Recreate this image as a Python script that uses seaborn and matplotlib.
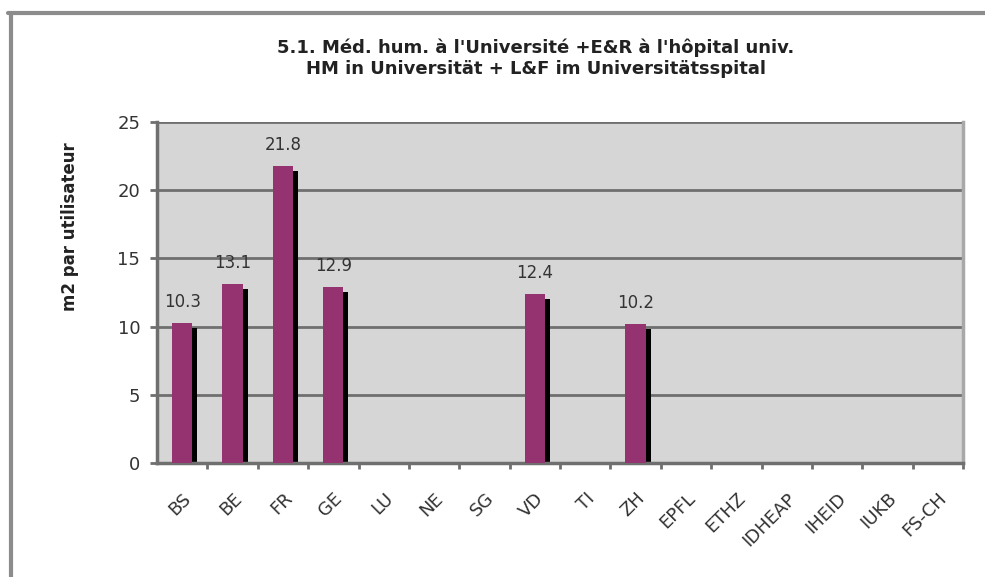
import numpy as np
import pandas as pd
import matplotlib
matplotlib.use("Agg")
import matplotlib.pyplot as plt
import matplotlib.transforms as mtransforms
from matplotlib.lines import Line2D
from matplotlib.ticker import FixedLocator
import seaborn as sns

# Data
categories = ["BS", "BE", "FR", "GE", "LU", "NE", "SG", "VD", "TI", "ZH",
              "EPFL", "ETHZ", "IDHEAP", "IHEID", "IUKB", "FS-CH"]
values = [10.3, 13.1, 21.8, 12.9, np.nan, np.nan, np.nan, 12.4, np.nan, 10.2,
          np.nan, np.nan, np.nan, np.nan, np.nan, np.nan]
y_ticks = [0, 5, 10, 15, 20, 25]
title_fr = "5.1. Méd. hum. à l'Université +E&R à l'hôpital univ."
title_de = "HM in Universität + L&F im Universitätsspital"
y_label = "m2 par utilisateur"

BAR_COLOR = "#953370"
GRID_COLOR = "#6f6f6f"
BG_COLOR = "#d6d6d6"
TEXT_COLOR = "#333333"

df = pd.DataFrame({"site": categories, "m2": values})

sns.set_style("white")
plt.rcParams["font.family"] = ["DejaVu Sans"]

fig = plt.figure(figsize=(9.85, 5.77), dpi=100)
ax = fig.add_axes([157 / 985, 1 - 463 / 577, (963 - 157) / 985, (463 - 122) / 577])
ax.set_facecolor(BG_COLOR)

# shadow layer first (shifted right/down), then the coloured bars on top
sns.barplot(data=df, x="site", y="m2", order=categories, color="black",
            width=0.4, saturation=1, ax=ax)
shift = mtransforms.ScaledTranslation(5 / 100, -5 / 100, fig.dpi_scale_trans)
for p in ax.patches:
    p.set_transform(ax.transData + shift)
    p.set_linewidth(0)
    p.set_zorder(2)
n_shadow = len(ax.patches)

sns.barplot(data=df, x="site", y="m2", order=categories, color=BAR_COLOR,
            width=0.4, saturation=1, ax=ax)
for p in ax.patches[n_shadow:]:
    p.set_linewidth(0)
    p.set_zorder(3)

# value labels
for i, v in enumerate(values):
    if not np.isnan(v):
        ax.annotate(f"{v:.1f}", (i, v), xytext=(0, 12), textcoords="offset pixels",
                    ha="center", va="bottom", fontsize=12, color=TEXT_COLOR)

ax.set_xlim(-0.5, len(categories) - 0.5)
ax.set_ylim(0, 25)
ax.set_yticks(y_ticks)
ax.yaxis.grid(True, color=GRID_COLOR, linewidth=2)
ax.set_axisbelow(True)

ax.set_xlabel("")
ax.set_ylabel("")
ax.set_xticks(range(len(categories)))
ax.set_xticklabels(categories, rotation=45, ha="right", rotation_mode="anchor",
                   fontsize=13, color=TEXT_COLOR)
ax.xaxis.set_minor_locator(FixedLocator(np.arange(0.5, len(categories), 1)))
ax.tick_params(axis="x", which="major", length=0, pad=19)
ax.tick_params(axis="x", which="minor", length=4, width=2, color=GRID_COLOR,
               bottom=True)
ax.tick_params(axis="y", length=5, width=2, color=GRID_COLOR, labelsize=13,
               labelcolor=TEXT_COLOR, pad=7, left=True)

for side in ["left", "bottom"]:
    ax.spines[side].set_color(GRID_COLOR)
    ax.spines[side].set_linewidth(2.5)
ax.spines["top"].set_visible(False)
ax.spines["right"].set_color("#a8a8a8")
ax.spines["right"].set_linewidth(2.5)

# titles and y label
fig.text(536 / 985, 1 - 48 / 577, title_fr, ha="center", va="center",
         fontsize=13, fontweight="bold", color="#222222")
fig.text(536 / 985, 1 - 69 / 577, title_de, ha="center", va="center",
         fontsize=13, fontweight="bold", color="#222222")
fig.text(70 / 985, 1 - 227 / 577, y_label, rotation=90, ha="center", va="center",
         fontsize=12, fontweight="bold", color="#222222")

# outer frame (top and left edges of the chart object)
fig.add_artist(Line2D([8 / 985, 1], [1 - 13 / 577, 1 - 13 / 577],
                      transform=fig.transFigure, color="#8c8c8c", linewidth=3))
fig.add_artist(Line2D([11 / 985, 11 / 985], [0, 1 - 13 / 577],
                      transform=fig.transFigure, color="#8c8c8c", linewidth=3))

fig.savefig("out.png", dpi=100, facecolor="white")
